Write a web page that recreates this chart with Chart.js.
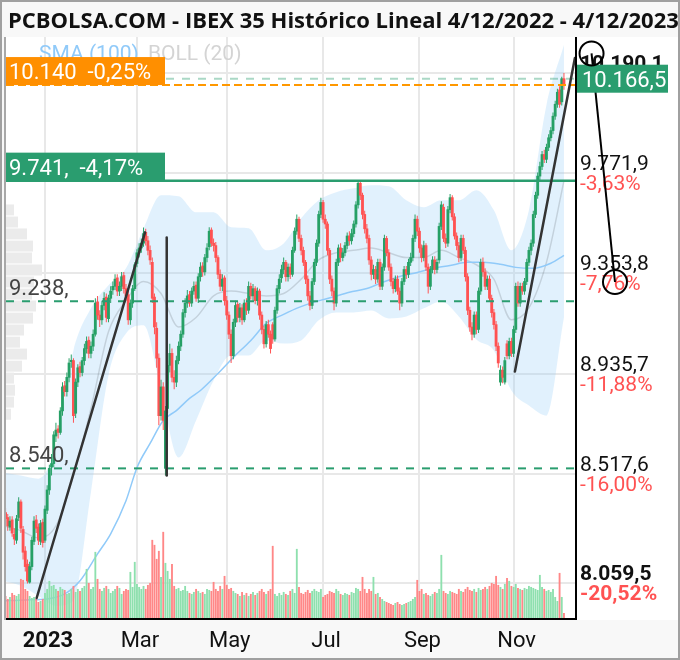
<!DOCTYPE html>
<html>
<head>
<meta charset="utf-8">
<script src="https://cdn.jsdelivr.net/npm/chart.js@4.4.0/dist/chart.umd.min.js"></script>
<style>
html, body { margin: 0; padding: 0; background: #fff; }
canvas { display: block; }
</style>
</head>
<body>
<canvas id="chart" width="680" height="660"></canvas>
<script>
// IBEX 35 diario 5/12/2022 - 4/12/2023
const opens = [
  8380, 8355, 8335, 8295, 8325, 8265, 8240, 8335, 8400, 8285,
  8195, 8140, 8065, 8130, 8235, 8325, 8295, 8235, 8315, 8240,
  8365, 8450, 8545, 8560, 8675, 8705, 8690, 8780, 8885, 8860,
  8920, 8985, 8990, 8770, 8900, 8965, 8940, 8990, 9040, 9075,
  9020, 9050, 9100, 9235, 9180, 9160, 9220, 9255, 9165, 9250,
  9285, 9300, 9335, 9280, 9300, 9345, 9290, 9265, 9160, 9230,
  9290, 9395, 9440, 9460, 9480, 9525, 9490, 9450, 9400, 9255,
  9125, 9000, 8760, 8880, 8540, 8790, 8970, 9020, 8920, 8900,
  8990, 9050, 9100, 9190, 9230, 9265, 9230, 9280, 9305, 9250,
  9340, 9385, 9360, 9420, 9465, 9535, 9480, 9470, 9420, 9350,
  9300, 9335, 9240, 9180, 9100, 9010, 9150, 9225, 9170, 9210,
  9160, 9230, 9200, 9300, 9260, 9290, 9240, 9280, 9180, 9120,
  9060, 9140, 9100, 9140, 9080, 9200, 9290, 9335, 9370, 9400,
  9340, 9380, 9350, 9450, 9530, 9580, 9500, 9450, 9400, 9330,
  9260, 9220, 9320, 9400, 9480, 9600, 9650, 9580, 9560, 9450,
  9330, 9280, 9230, 9400, 9460, 9420, 9440, 9470, 9510, 9490,
  9520, 9560, 9640, 9730, 9680, 9600, 9540, 9500, 9410, 9350,
  9370, 9330, 9400, 9300, 9380, 9500, 9440, 9380, 9320, 9290,
  9330, 9280, 9230, 9320, 9370, 9350, 9400, 9420, 9500, 9580,
  9530, 9460, 9420, 9470, 9380, 9300, 9370, 9410, 9370, 9410,
  9550, 9630, 9500, 9480, 9620, 9670, 9590, 9510, 9470, 9420,
  9500, 9450, 9340, 9200, 9130, 9100, 9180, 9120, 9280, 9400,
  9360, 9300, 9330, 9250, 9190, 9140, 9050, 8900, 8950, 8900,
  9060, 9010, 9070, 9020, 9120, 9300, 9230, 9300, 9280, 9320,
  9400, 9450, 9480, 9600, 9680, 9760, 9800, 9850, 9830, 9880,
  9920, 9950, 10010, 10060, 10120, 10070, 10166.5
];
const closes = [
  8360, 8330, 8300, 8320, 8270, 8245, 8330, 8400, 8290, 8190,
  8130, 8070, 8130, 8240, 8320, 8290, 8240, 8310, 8230, 8370,
  8450, 8540, 8560, 8680, 8700, 8690, 8780, 8880, 8860, 8920,
  8980, 8990, 8760, 8900, 8960, 8940, 8990, 9040, 9070, 9020,
  9050, 9100, 9230, 9180, 9160, 9220, 9250, 9170, 9250, 9280,
  9300, 9330, 9280, 9300, 9340, 9290, 9260, 9160, 9230, 9290,
  9390, 9440, 9460, 9480, 9520, 9490, 9450, 9410, 9250, 9130,
  9000, 8760, 8880, 8740, 8780, 8970, 9020, 8920, 8900, 8990,
  9050, 9100, 9190, 9230, 9260, 9230, 9280, 9300, 9250, 9340,
  9380, 9360, 9420, 9460, 9530, 9480, 9470, 9420, 9350, 9300,
  9330, 9240, 9180, 9100, 9010, 9150, 9220, 9170, 9210, 9160,
  9230, 9200, 9300, 9260, 9290, 9240, 9280, 9180, 9120, 9060,
  9140, 9100, 9040, 9080, 9200, 9290, 9330, 9370, 9400, 9340,
  9380, 9350, 9450, 9530, 9580, 9500, 9450, 9400, 9330, 9260,
  9220, 9320, 9400, 9480, 9600, 9650, 9580, 9560, 9450, 9330,
  9280, 9230, 9400, 9460, 9420, 9440, 9470, 9510, 9490, 9520,
  9560, 9640, 9730, 9680, 9600, 9540, 9500, 9410, 9350, 9370,
  9330, 9400, 9300, 9380, 9500, 9440, 9380, 9320, 9290, 9330,
  9280, 9230, 9320, 9370, 9350, 9400, 9420, 9500, 9580, 9530,
  9460, 9420, 9470, 9380, 9300, 9370, 9410, 9370, 9400, 9550,
  9640, 9500, 9480, 9620, 9670, 9590, 9510, 9470, 9420, 9500,
  9450, 9340, 9200, 9130, 9100, 9180, 9120, 9280, 9400, 9360,
  9300, 9330, 9250, 9190, 9140, 9050, 8980, 8950, 8920, 8990,
  9010, 9070, 9020, 9120, 9300, 9230, 9300, 9280, 9320, 9400,
  9450, 9480, 9600, 9680, 9760, 9800, 9850, 9830, 9880, 9920,
  9950, 10010, 10060, 10110, 10060, 10166.5, 10140
];
const highs = [
  8400, 8375, 8350, 8340, 8340, 8290, 8345, 8420, 8410, 8300,
  8215, 8160, 8150, 8255, 8340, 8345, 8310, 8325, 8330, 8385,
  8470, 8555, 8600, 8695, 8730, 8720, 8795, 8900, 8905, 8940,
  9000, 9015, 9000, 8915, 8975, 8985, 9005, 9060, 9090, 9090,
  9070, 9120, 9250, 9260, 9200, 9240, 9275, 9270, 9265, 9300,
  9320, 9350, 9350, 9320, 9360, 9360, 9310, 9280, 9245, 9305,
  9400, 9455, 9480, 9500, 9545, 9540, 9510, 9470, 9420, 9270,
  9150, 9020, 8910, 8900, 8800, 8990, 9060, 9040, 8950, 9010,
  9070, 9115, 9205, 9250, 9285, 9280, 9295, 9320, 9320, 9355,
  9400, 9400, 9435, 9480, 9546, 9545, 9500, 9485, 9430, 9370,
  9350, 9345, 9260, 9195, 9120, 9165, 9240, 9235, 9230, 9225,
  9245, 9250, 9320, 9315, 9310, 9300, 9295, 9290, 9195, 9135,
  9155, 9160, 9115, 9150, 9215, 9305, 9350, 9390, 9420, 9410,
  9395, 9395, 9465, 9545, 9600, 9590, 9515, 9465, 9410, 9345,
  9280, 9335, 9415, 9495, 9615, 9670, 9660, 9600, 9570, 9460,
  9345, 9295, 9415, 9475, 9480, 9460, 9485, 9525, 9530, 9540,
  9575, 9655, 9741, 9740, 9690, 9615, 9560, 9515, 9425, 9390,
  9385, 9415, 9415, 9395, 9515, 9510, 9455, 9395, 9335, 9345,
  9345, 9295, 9335, 9385, 9385, 9415, 9440, 9515, 9600, 9595,
  9545, 9475, 9490, 9480, 9395, 9385, 9425, 9425, 9415, 9565,
  9655, 9645, 9520, 9635, 9685, 9680, 9605, 9525, 9485, 9515,
  9515, 9465, 9355, 9215, 9150, 9195, 9195, 9295, 9415, 9420,
  9375, 9345, 9345, 9265, 9205, 9155, 9065, 8970, 8965, 9005,
  9075, 9085, 9085, 9135, 9315, 9320, 9315, 9315, 9335, 9415,
  9465, 9495, 9615, 9695, 9775, 9820, 9865, 9870, 9895, 9935,
  9965, 10025, 10075, 10125, 10135, 10175, 10190.1
];
const lows = [
  8340, 8310, 8280, 8280, 8255, 8220, 8225, 8320, 8270, 8160,
  8110, 8059.5, 8060, 8115, 8220, 8270, 8220, 8220, 8210, 8230,
  8350, 8430, 8510, 8545, 8650, 8665, 8680, 8760, 8840, 8840,
  8900, 8960, 8730, 8750, 8880, 8920, 8925, 8970, 9020, 9000,
  9000, 9030, 9090, 9160, 9130, 9140, 9200, 9150, 9150, 9230,
  9265, 9285, 9260, 9260, 9280, 9270, 9240, 9140, 9140, 9210,
  9280, 9380, 9420, 9440, 9465, 9470, 9430, 9390, 9230, 9100,
  8960, 8720, 8740, 8700, 8510, 8770, 8940, 8900, 8870, 8880,
  8975, 9030, 9085, 9170, 9210, 9215, 9215, 9265, 9235, 9230,
  9320, 9340, 9345, 9400, 9450, 9465, 9445, 9400, 9330, 9280,
  9280, 9220, 9160, 9080, 8980, 8995, 9130, 9150, 9150, 9140,
  9150, 9180, 9185, 9245, 9240, 9225, 9220, 9160, 9100, 9040,
  9045, 9085, 9020, 9060, 9070, 9185, 9270, 9315, 9350, 9320,
  9320, 9330, 9340, 9440, 9515, 9485, 9430, 9385, 9310, 9240,
  9200, 9205, 9305, 9385, 9465, 9585, 9565, 9540, 9430, 9310,
  9260, 9200, 9215, 9385, 9400, 9405, 9425, 9455, 9470, 9475,
  9505, 9545, 9625, 9660, 9580, 9520, 9480, 9390, 9325, 9330,
  9310, 9315, 9285, 9285, 9365, 9425, 9365, 9300, 9270, 9275,
  9265, 9200, 9215, 9305, 9330, 9335, 9385, 9405, 9485, 9510,
  9440, 9400, 9405, 9365, 9270, 9285, 9355, 9350, 9355, 9395,
  9535, 9485, 9460, 9465, 9605, 9575, 9495, 9450, 9400, 9405,
  9435, 9320, 9180, 9110, 9075, 9085, 9100, 9105, 9265, 9340,
  9285, 9285, 9235, 9170, 9120, 9030, 8960, 8885, 8895, 8890,
  8995, 8995, 9005, 9005, 9105, 9215, 9215, 9265, 9265, 9305,
  9385, 9430, 9465, 9585, 9665, 9740, 9785, 9815, 9815, 9865,
  9905, 9935, 9995, 10045, 10045, 10055, 10120
];
// volumen (misma escala arbitraria que el grafico)
const volumes = [
  210, 230, 200, 220, 260, 240, 230, 250, 400, 390, 300, 280, 230, 210, 220, 200, 170, 180, 200,
  260, 300, 380, 330, 340, 300, 280, 320, 300, 290, 250, 260, 300, 330, 270, 300, 280, 310, 330, 500, 360, 300,
  320, 670, 400, 300, 280, 310, 330, 300, 260, 280, 300, 330, 310, 250, 280, 300, 290, 470, 320, 570,
  350, 320, 300, 330, 300, 340, 360, 790, 740, 600, 680, 420, 870, 560, 480, 400, 550, 330, 300, 310, 280, 290, 330,
  280, 260, 250, 270, 300, 280, 260, 270, 250, 300, 290, 280, 370, 300, 280, 330, 300, 430,
  340, 300, 310, 280, 260, 250, 230, 270, 240, 260, 230, 250, 270, 240, 260, 280, 300, 270, 250, 280, 300, 730,
  250, 230, 260, 240, 270, 250, 240, 280, 300, 260, 700, 320, 260, 250, 270, 290, 260, 280, 300, 280, 270, 300,
  220, 240, 250, 280, 270, 260, 300, 280, 250, 240, 260, 250, 240, 270, 260, 310, 300, 280, 420, 300, 260,
  300, 280, 420, 250, 260, 220, 200, 180, 170, 160, 150, 140, 160, 170, 150, 140, 150, 160, 170, 180, 200, 220, 390,
  280, 300, 250, 260, 240, 230, 250, 270, 260, 300, 640, 280, 260, 250, 280, 270, 260, 250, 300, 280, 270,
  300, 320, 290, 280, 300, 270, 310, 290, 300, 320, 300, 330, 360, 350, 430, 340, 320, 300, 350, 410, 380, 330,
  320, 350, 310, 300, 290, 310, 300, 330, 320, 310, 300, 290, 440, 320, 300, 280, 290, 270, 300, 220, 180, 460,
  220, 60
];

const monthIdx = [19, 61, 102, 146, 190, 233];
const monthLabels = ['2023', 'Mar', 'May', 'Jul', 'Sep', 'Nov'];

const axisTicks = [10190.1, 9771.9, 9353.8, 8935.7, 8517.6, 8059.5];
const axisLabels = ['10.190,1', '9.771,9', '9.353,8', '8.935,7', '8.517,6', '8.059,5'];
const axisPct = ['', '-3,63%', '-7,76%', '-11,88%', '-16,00%', '-20,52%'];

// SMA (100)
const smaIdx = [0, 10, 20, 28, 35, 43, 49, 56, 61, 67, 73, 79, 85, 90, 98, 105, 113, 120, 128, 135,
  143, 150, 158, 166, 173, 181, 189, 196, 204, 212, 219, 227, 234, 242, 250, 256];
const smaVal = [7987, 7991, 7995, 8016, 8071, 8183, 8267, 8405, 8543, 8644, 8740, 8781, 8832, 8865, 8936, 9003, 9074, 9145, 9183, 9212,
  9237, 9254, 9275, 9291, 9316, 9341, 9358, 9375, 9387, 9400, 9400, 9392, 9379, 9375, 9396, 9429];

// BOLL (20)
const bandIdx = [0, 8, 16, 24, 32, 40, 48, 56, 64, 72, 80, 88, 96, 104, 112, 120, 128, 136, 144, 152,
  160, 168, 176, 184, 192, 200, 208, 216, 224, 232, 240, 248, 256];
const bollUp = [8522, 8510, 8497, 8635, 9032, 9208, 9304, 9375, 9540, 9680, 9676, 9609, 9609, 9546, 9542, 9450, 9479, 9584, 9659, 9693,
  9709, 9722, 9718, 9659, 9630, 9659, 9659, 9701, 9617, 9450, 9617, 10056, 10307];
const bollMid = [8300, 8280, 8250, 8300, 8510, 8790, 9110, 9240, 9320, 9270, 9130, 9170, 9260, 9280, 9270, 9260, 9270, 9330, 9410, 9440,
  9450, 9460, 9440, 9420, 9420, 9450, 9420, 9390, 9330, 9160, 9210, 9400, 9740];
const bollLow = [8071, 8050, 8008, 7966, 7987, 8440, 8928, 9103, 9137, 8865, 8585, 8740, 8907, 9011, 9011, 9074, 9061, 9074, 9158, 9191,
  9191, 9199, 9166, 9174, 9208, 9237, 9174, 9078, 9032, 8865, 8802, 8760, 9170];

// volumen por precio (perfil de la izquierda)
const profilePrice = [9701, 9642, 9584, 9525, 9467, 9408, 9350, 9291, 9233, 9174, 9116, 9057, 8999, 8940, 8882, 8823, 8765, 8706];
const profileVol = [8, 12, 21, 27, 26, 36, 28, 26, 30, 27, 18, 14, 21, 16, 8, 9, 8, 5];

// niveles horizontales
const levelValues = [10166.5, 10140, 9741, 9238, 8540];
const levelTexts = ['', '10.140  -0,25%', '9.741,  -4,17%', '9.238,', '8.540,'];
const lastPrice = 10166.5;
const lastLabel = '10.166,5';

// lineas dibujadas a mano (indice, precio)
const trendFrom = [[15.2, 7999], [74.6, 9504], [233.6, 8944]];
const trendTo = [[64.7, 9525], [74.6, 8510], [261, 10253]];
const measure = [[268.6, 10272], [279.3, 9318]];

const title = 'PCBOLSA.COM - IBEX 35 Histórico Lineal 4/12/2022 - 4/12/2023';

Chart.defaults.font.family = 'Roboto';

const green = '#26a066', red = '#ff5252';
const volGreen = '#8ee0ae', volRed = '#ff8787';

const pts = (idx, vals) => idx.map((x, k) => ({ x: x, y: vals[k] }));
const candlePoints = closes.map((c, i) => ({ x: i, y: [opens[i], c] }));
const wickPoints = highs.map((h, i) => ({ x: i, y: [lows[i], h] }));
const candleColors = closes.map((c, i) => (c >= opens[i] ? green : red));
const volPoints = volumes.map((v, i) => ({ x: i, y: v }));
const volColors = closes.map((c, i) => (c >= opens[i] ? volGreen : volRed));

const decor = {
  id: 'decor',
  beforeDraw(chart) {
    const c = chart.ctx;
    c.save();
    c.fillStyle = '#f8f8f8';
    c.fillRect(0, 0, chart.width, chart.height);
    c.fillStyle = '#ffffff';
    c.fillRect(6, 37, 672, chart.chartArea.bottom - 36);
    c.restore();
  },
  afterDatasetsDraw(chart) {
    const c = chart.ctx, a = chart.chartArea;
    const sx = chart.scales.x, sy = chart.scales.y;
    const X = i => sx.getPixelForValue(i);
    const Y = v => sy.getPixelForValue(v);
    c.save();

    c.font = '21px Roboto';
    c.fillStyle = '#90caf9';
    c.fillText('SMA (100)', 39, 60);
    c.fillStyle = '#d4d4d4';
    c.fillText('BOLL (20)', 148, 60);

    // niveles y lineas de tendencia, recortados al area
    c.save();
    c.beginPath();
    c.rect(a.left, a.top, a.right - a.left, a.bottom - a.top);
    c.clip();
    const styles = [
      ['rgba(42,157,111,0.4)', [8, 8], 2],
      ['#ff9800', [8, 4], 2],
      ['#2a9d6f', [], 2.5],
      ['#2a9d6f', [8, 8], 2],
      ['#2a9d6f', [8, 8], 2]
    ];
    levelValues.forEach((v, k) => {
      const y = Y(v);
      c.strokeStyle = styles[k][0];
      c.setLineDash(styles[k][1]);
      c.lineWidth = styles[k][2];
      c.beginPath();
      c.moveTo(a.left, y);
      c.lineTo(a.right, y);
      c.stroke();
    });
    c.setLineDash([]);
    c.strokeStyle = '#333';
    c.lineWidth = 2.5;
    c.lineCap = 'round';
    trendFrom.forEach((p, k) => {
      c.beginPath();
      c.moveTo(X(p[0]), Y(p[1]));
      c.lineTo(X(trendTo[k][0]), Y(trendTo[k][1]));
      c.stroke();
    });
    c.restore();

    // etiquetas de niveles
    const boxColors = ['', '#ff8f00', '#2a9d6f', '', ''];
    c.font = '22px Roboto';
    levelTexts.forEach((t, k) => {
      if (!t) return;
      const y = Y(levelValues[k]);
      if (boxColors[k]) {
        c.fillStyle = boxColors[k];
        c.fillRect(6, y - 28, 159, 28);
        c.fillStyle = '#fff';
      } else {
        c.fillStyle = '#444';
      }
      c.fillText(t, 9, y - 6);
    });

    // escala derecha
    axisTicks.forEach((v, k) => {
      const y = Y(v);
      const bold = k === 0 || k === axisTicks.length - 1;
      c.font = (bold ? 'bold ' : '') + '21px Roboto';
      c.fillStyle = '#111';
      c.fillText(axisLabels[k], 580, y - 3);
      c.fillStyle = '#ff5252';
      c.fillText(axisPct[k], 580, y + 17);
    });

    // linea de medicion
    c.strokeStyle = '#000';
    c.lineWidth = 2;
    c.beginPath();
    c.moveTo(X(measure[0][0]), Y(measure[0][1]));
    c.lineTo(X(measure[1][0]), Y(measure[1][1]));
    c.stroke();

    // ultimo precio
    const yl = Y(lastPrice);
    c.fillStyle = '#2a9d6f';
    c.fillRect(577, yl - 14, 91, 28);
    c.fillStyle = '#fff';
    c.font = '22px Roboto';
    c.fillText(lastLabel, 582, yl + 8);

    measure.forEach(p => {
      c.beginPath();
      c.arc(X(p[0]), Y(p[1]), 12, 0, Math.PI * 2);
      c.stroke();
    });

    // bordes del area
    c.strokeStyle = '#000';
    c.lineWidth = 2;
    c.beginPath();
    c.moveTo(a.left, a.bottom);
    c.lineTo(a.right, a.bottom);
    c.lineTo(a.right, a.top);
    c.stroke();
    c.strokeStyle = '#a8a8a8';
    c.beginPath();
    c.moveTo(5, a.top);
    c.lineTo(5, a.bottom + 1);
    c.stroke();
    c.restore();
  },
  afterDraw(chart) {
    const c = chart.ctx;
    c.save();
    c.font = 'bold 22px "Open Sans"';
    c.fillStyle = '#111';
    c.fillText(title, 8, 28);
    c.strokeStyle = '#a0a0a0';
    c.lineWidth = 2;
    c.strokeRect(1, 1, chart.width - 2, chart.height - 2);
    c.restore();
  }
};

new Chart(document.getElementById('chart'), {
  type: 'bar',
  data: {
    datasets: [
      { type: 'line', data: pts(bandIdx, bollUp), xAxisID: 'x', yAxisID: 'y', borderColor: 'transparent', borderWidth: 0,
        pointRadius: 0, fill: '+1', backgroundColor: 'rgba(144,202,249,0.27)', cubicInterpolationMode: 'monotone', order: 10 },
      { type: 'line', data: pts(bandIdx, bollLow), xAxisID: 'x', yAxisID: 'y', borderColor: 'transparent', borderWidth: 0,
        pointRadius: 0, fill: false, cubicInterpolationMode: 'monotone', order: 10 },
      { type: 'bar', indexAxis: 'y', data: profilePrice.map((p, k) => ({ x: profileVol[k], y: p })), xAxisID: 'xp', yAxisID: 'yp',
        backgroundColor: '#ebebeb', barPercentage: 0.92, categoryPercentage: 1, grouped: false, order: 9 },
      { type: 'line', data: pts(bandIdx, bollMid), xAxisID: 'x', yAxisID: 'y', borderColor: 'rgba(0,0,0,0.13)', borderWidth: 1.5,
        pointRadius: 0, fill: false, cubicInterpolationMode: 'monotone', order: 8 },
      { type: 'line', data: pts(smaIdx, smaVal), xAxisID: 'x', yAxisID: 'y', borderColor: '#90caf9', borderWidth: 1.5,
        pointRadius: 0, fill: false, cubicInterpolationMode: 'monotone', order: 7 },
      { type: 'bar', data: volPoints, xAxisID: 'x', yAxisID: 'yv', backgroundColor: volColors,
        barPercentage: 0.85, categoryPercentage: 1, grouped: false, order: 6 },
      { type: 'bar', data: wickPoints, xAxisID: 'x', yAxisID: 'y', backgroundColor: candleColors,
        barPercentage: 0.45, categoryPercentage: 1, grouped: false, order: 5.5 },
      { type: 'bar', data: candlePoints, xAxisID: 'x', yAxisID: 'y', backgroundColor: candleColors,
        barPercentage: 1, categoryPercentage: 1, grouped: false, minBarLength: 1.5, order: 5 }
    ]
  },
  options: {
    responsive: false,
    animation: false,
    devicePixelRatio: 1,
    layout: { padding: { top: 37, left: 6, right: 104, bottom: -3.4 } },
    plugins: { legend: { display: false }, tooltip: { enabled: false } },
    scales: {
      x: {
        type: 'linear', position: 'bottom', min: 1.2, max: 261.5, offset: false,
        afterBuildTicks: s => { s.ticks = monthIdx.map(v => ({ value: v })); },
        ticks: {
          callback: (v, i) => monthLabels[i],
          font: ctx => ({ family: 'Roboto', size: 22, weight: ctx.index === 0 ? 'bold' : 'normal' }),
          color: '#111', padding: 9, maxRotation: 0, autoSkip: false, labelOffset: 3
        },
        grid: { color: '#e8e8e8', lineWidth: 2, drawTicks: false, offset: false },
        border: { display: false }
      },
      y: {
        type: 'linear', position: 'right', min: 7911.3, max: 10340.6,
        afterBuildTicks: s => { s.ticks = axisTicks.map(v => ({ value: v })); },
        ticks: { display: false },
        grid: { color: '#e8e8e8', lineWidth: 2, drawTicks: false },
        border: { display: false }
      },
      yv: { type: 'linear', display: false, min: 0, max: 5810 },
      yp: { type: 'linear', display: false, min: 7911.3, max: 10340.6 },
      xp: { type: 'linear', display: false, min: 0, max: 570, offset: false }
    }
  },
  plugins: [decor]
});
</script>
</body>
</html>
